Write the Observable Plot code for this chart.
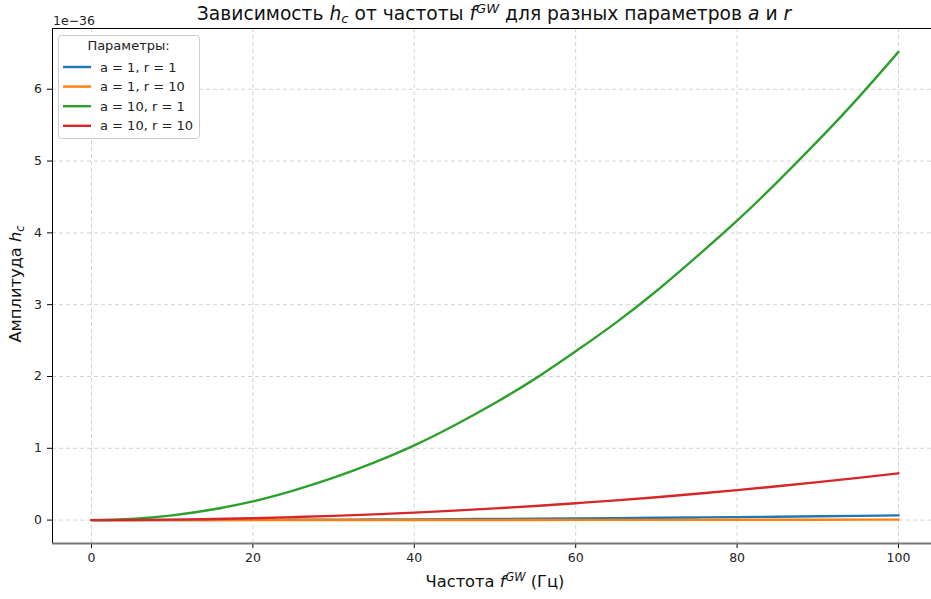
<!DOCTYPE html>
<html>
<head>
<meta charset="utf-8">
<script src="https://cdn.jsdelivr.net/npm/d3@7"></script>
<script src="https://cdn.jsdelivr.net/npm/@observablehq/plot@0.6"></script>
<style>
  html, body { margin: 0; padding: 0; background: white; }
  #chart { width: 931px; height: 599px; }
</style>
</head>
<body>
<div id="chart"></div>
<script>
// Frequency samples (Hz)
const freq = [0, 5, 10, 15, 20, 25, 30, 35, 40, 45, 50, 55, 60, 65, 70, 75, 80, 85, 90, 95, 100];
// Amplitude h_c, in units of 1e-36
const hA1R1  = [0, 0.0002, 0.0007, 0.0015, 0.0026, 0.0041, 0.0059, 0.0080, 0.0104, 0.0132, 0.0163, 0.0197, 0.0235, 0.0275, 0.0319, 0.0367, 0.0417, 0.0471, 0.0528, 0.0588, 0.0652];
const hA1R10 = [0, 0.0000, 0.0001, 0.0001, 0.0003, 0.0004, 0.0006, 0.0008, 0.0010, 0.0013, 0.0016, 0.0020, 0.0024, 0.0028, 0.0032, 0.0037, 0.0042, 0.0047, 0.0053, 0.0059, 0.0065];
const hA10R1 = [0, 0.016, 0.065, 0.147, 0.26, 0.41, 0.59, 0.80, 1.04, 1.32, 1.63, 1.97, 2.35, 2.75, 3.19, 3.67, 4.17, 4.71, 5.28, 5.88, 6.52];
const hA10R10= [0, 0.0016, 0.0065, 0.0147, 0.026, 0.041, 0.059, 0.080, 0.104, 0.132, 0.163, 0.197, 0.235, 0.275, 0.319, 0.367, 0.417, 0.471, 0.528, 0.588, 0.652];

const seriesNames = ["a = 1, r = 1", "a = 1, r = 10", "a = 10, r = 1", "a = 10, r = 10"];
const seriesValues = [hA1R1, hA1R10, hA10R1, hA10R10];
const seriesColors = ["#1f77b4", "#ff7f0e", "#2ca02c", "#d62728"];

const xTicks = [0, 20, 40, 60, 80, 100];
const yTicks = [0, 1, 2, 3, 4, 5, 6];

const data = [];
seriesNames.forEach((s, i) => {
  freq.forEach((fv, j) => data.push({s, f: fv, h: seriesValues[i][j]}));
});

const xDom = [-4.83, 104.09];
const yDom = [-0.326, 6.846];
const gridStyle = {stroke: "#b0b0b0", strokeOpacity: 0.7, strokeDasharray: "4,3", strokeWidth: 0.8};

const plot = Plot.plot({
  width: 931,
  height: 599,
  marginLeft: 52,
  marginRight: 0,
  marginTop: 28,
  marginBottom: 56,
  style: {fontFamily: "DejaVu Sans", fontSize: "12.5px", color: "#222", background: "white", overflow: "visible"},
  x: {domain: xDom, label: null},
  y: {domain: yDom, label: null},
  color: {domain: seriesNames, range: seriesColors},
  marks: [
    Plot.gridX(xTicks, gridStyle),
    Plot.gridY(yTicks, gridStyle),
    Plot.line(data, {x: "f", y: "h", z: "s", stroke: "s", strokeWidth: 2.4, curve: "natural"}),
    Plot.axisX(xTicks, {tickSize: 5, tickPadding: 4.5, fontSize: 12.5, tickFormat: d => String(d), stroke: "#000", fill: "#222"}),
    Plot.axisY(yTicks, {tickSize: 5, tickPadding: 5.5, fontSize: 12.5, tickFormat: d => String(d), stroke: "#000", fill: "#222"}),
    Plot.ruleX([xDom[0]], {stroke: "#000", strokeWidth: 1}),
    Plot.ruleY([yDom[1]], {stroke: "#000", strokeWidth: 1}),
    Plot.ruleY([yDom[0]], {stroke: "#777", strokeWidth: 2})
  ]
});

document.getElementById("chart").appendChild(plot);
const svg = d3.select(plot);

function richText(sel, parts, fs) {
  parts.forEach(p => {
    const t = sel.append("tspan").text(p.t);
    if (p.i) t.attr("font-style", "italic");
    if (p.sup) t.attr("baseline-shift", (fs * 0.38).toFixed(1) + "px").attr("font-size", (fs * 0.7).toFixed(1) + "px");
    if (p.sub) t.attr("baseline-shift", (-fs * 0.16).toFixed(1) + "px").attr("font-size", (fs * 0.7).toFixed(1) + "px");
  });
}

// Title
richText(svg.append("text").attr("x", 494).attr("y", 20).attr("text-anchor", "middle")
  .attr("font-family", "DejaVu Sans").attr("font-size", 18.7).attr("fill", "#111"),
  [{t: "Зависимость "}, {t: "h", i: 1}, {t: "c", i: 1, sub: 1}, {t: " от частоты "},
   {t: "f", i: 1}, {t: "GW", i: 1, sup: 1}, {t: " для разных параметров "}, {t: "a", i: 1}, {t: " и "}, {t: "r", i: 1}], 18.7);

// X label
richText(svg.append("text").attr("x", 495).attr("y", 587).attr("text-anchor", "middle")
  .attr("font-family", "DejaVu Sans").attr("font-size", 16.3).attr("fill", "#111"),
  [{t: "Частота "}, {t: "f", i: 1}, {t: "GW", i: 1, sup: 1}, {t: " (Гц)"}], 16.3);

// Y label
richText(svg.append("text").attr("transform", "translate(20.5,284) rotate(-90)").attr("text-anchor", "middle")
  .attr("font-family", "DejaVu Sans").attr("font-size", 16.3).attr("fill", "#111"),
  [{t: "Амплитуда "}, {t: "h", i: 1}, {t: "c", i: 1, sub: 1}], 16.3);

// Offset text
svg.append("text").attr("x", 53).attr("y", 24.5).attr("text-anchor", "start").attr("font-family", "DejaVu Sans")
  .attr("font-size", 12.5).attr("fill", "#222").text("1e\u221236");

// Legend
const lg = svg.append("g");
lg.append("rect").attr("x", 58.5).attr("y", 35.5).attr("width", 141).attr("height", 103).attr("rx", 3)
  .attr("fill", "white").attr("fill-opacity", 0.85).attr("stroke", "#ccc");
lg.append("text").attr("x", 128.5).attr("y", 50).attr("text-anchor", "middle")
  .attr("font-family", "DejaVu Sans").attr("font-size", 13).attr("fill", "#222").text("Параметры:");
seriesNames.forEach((s, i) => {
  const yy = 67 + i * 19.6;
  lg.append("line").attr("x1", 63).attr("x2", 91).attr("y1", yy).attr("y2", yy)
    .attr("stroke", seriesColors[i]).attr("stroke-width", 2.4);
  lg.append("text").attr("x", 100).attr("y", yy + 4.5).attr("text-anchor", "start").attr("font-family", "DejaVu Sans")
    .attr("font-size", 13).attr("fill", "#222").text(s);
});
</script>
</body>
</html>
